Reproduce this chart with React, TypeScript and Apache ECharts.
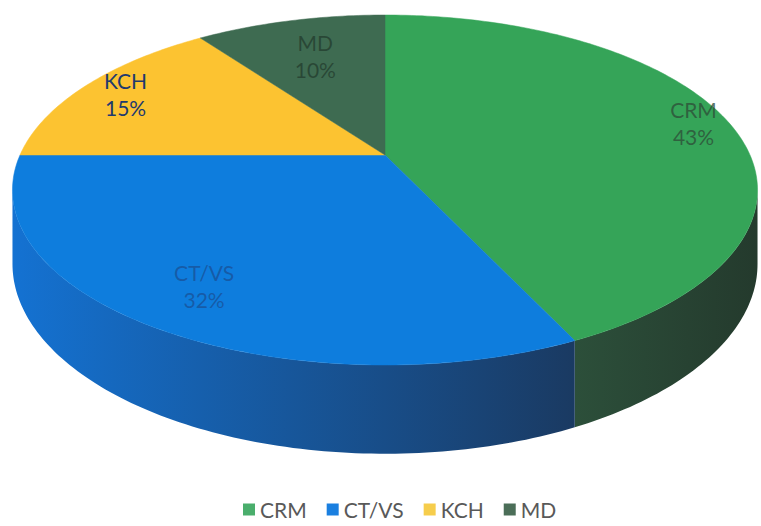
import React, { useEffect, useRef } from "react";
import * as echarts from "echarts";

const categories = ["CRM", "CT/VS", "KCH", "MD"];
const values = [43, 32, 15, 10];
const percentLabels = ["43%", "32%", "15%", "10%"];

const topColors = ["#35a458", "#0e7ddd", "#fcc331", "#3e6b51"];
const wallLight = ["#2c4f3a", "#1472d2", "#d9a52a", "#34574a"];
const wallDark = ["#243a2d", "#1a3a62", "#b98a1c", "#283f33"];
const labelColors = [
  "rgba(45,75,55,0.75)",
  "rgba(25,80,150,0.75)",
  "#1f3a6e",
  "rgba(35,60,45,0.75)",
];
const legendColors = ["#4aae6c", "#1a7fe0", "#f6cd4c", "#4b6e58"];
const LABEL_R = [0.9, 0.8, 0.86, 0.7];

// geometry (style)
const CX = 385;
const CY = 155;
const RX = 365;
const RY = 168;
const P = 0.2;
const DEPTH = 71;

function project(theta: number, r: number, depth: number) {
  const X = r * Math.sin(theta);
  const Z = -r * Math.cos(theta);
  const s = 1 / (1 - P * Z);
  return [CX + RX * X * s, CY + RY * Z * s + DEPTH * depth * s];
}

export default function App() {
  const ref = useRef<HTMLDivElement>(null);
  useEffect(() => {
    document.body.style.margin = "0";
    if (!ref.current) return;
    const chart = echarts.init(ref.current, undefined, { renderer: "svg" });
    const total = values.reduce((a, b) => a + b, 0);
    const visA = Math.acos(-P);
    const visB = 2 * Math.PI - visA;

    const renderItem = (params: any, api: any) => {
      const i = params.dataIndex;
      let before = 0;
      for (let k = 0; k < i; k++) before += values[k];
      const a0 = (before / total) * 2 * Math.PI;
      const a1 = ((before + values[i]) / total) * 2 * Math.PI;
      const children: any[] = [];
      const w0 = Math.max(a0, visA);
      const w1 = Math.min(a1, visB);
      if (w1 > w0) {
        const pts: number[][] = [];
        const n = Math.max(2, Math.ceil(((w1 - w0) * 180) / Math.PI));
        for (let j = 0; j <= n; j++) pts.push(project(w0 + ((w1 - w0) * j) / n, 1, 0));
        for (let j = n; j >= 0; j--) pts.push(project(w0 + ((w1 - w0) * j) / n, 1, 1));
        const xs = pts.map((p) => p[0]);
        const minX = Math.min(...xs);
        const maxX = Math.max(...xs);
        children.push({
          type: "polygon",
          shape: { points: pts },
          style: {
            fill: new echarts.graphic.LinearGradient(minX, 0, maxX, 0, [
              { offset: 0, color: wallLight[i] },
              { offset: 1, color: wallDark[i] },
            ], true),
          },
        });
      }
      const top: number[][] = [[CX, CY]];
      const n2 = Math.max(2, Math.ceil(((a1 - a0) * 180) / Math.PI));
      for (let j = 0; j <= n2; j++) top.push(project(a0 + ((a1 - a0) * j) / n2, 1, 0));
      children.push({
        type: "polygon",
        shape: { points: top },
        style: { fill: topColors[i], stroke: topColors[i], lineWidth: 0.5 },
      });
      const mid = (a0 + a1) / 2;
      const lp = project(mid, LABEL_R[i], 0);
      children.push({
        type: "text",
        x: lp[0],
        y: lp[1],
        style: {
          text: categories[i] + "\n" + percentLabels[i],
          fill: labelColors[i],
          font: "21px Lato",
          lineHeight: 27,
          align: "center",
          verticalAlign: "middle",
        },
      });
      return { type: "group", children };
    };

    chart.setOption({
      animation: false,
      legend: {
        data: categories,
        bottom: 1,
        left: 238,
        icon: "rect",
        itemWidth: 12,
        itemHeight: 12,
        itemGap: 20,
        textStyle: { color: "#595959", fontSize: 21, fontFamily: "Lato" },
      },
      series: [
        {
          type: "pie",
          radius: [0, 0],
          center: [-100, -100],
          silent: true,
          label: { show: false },
          data: categories.map((c, i) => ({
            name: c,
            value: values[i],
            itemStyle: { color: legendColors[i] },
          })),
        },
        {
          type: "custom",
          coordinateSystem: "none",
          silent: true,
          renderItem,
          data: values.map((v, i) => [i, v]),
        },
      ],
    });
    return () => chart.dispose();
  }, []);
  return <div ref={ref} style={{ width: 761, height: 526 }} />;
}
